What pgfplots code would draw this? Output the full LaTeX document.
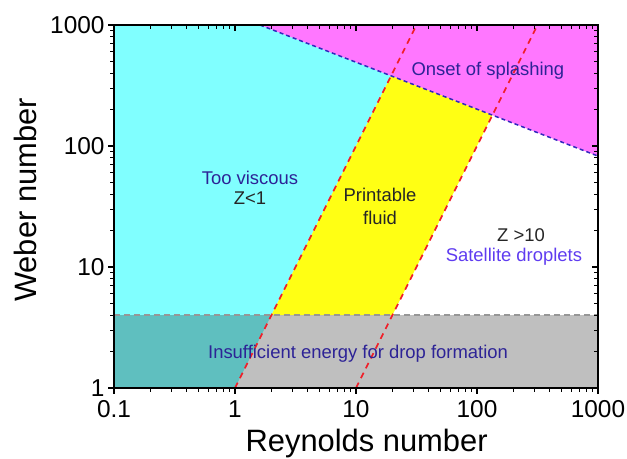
\documentclass[border=0pt]{standalone}
\usepackage{pgfplots}
\pgfplotsset{compat=1.18}
\usepackage{fontspec}
\setmainfont{Liberation Sans}
\definecolor{mycyan}{RGB}{128,255,255}
\definecolor{mymag}{RGB}{255,119,255}
\definecolor{myyel}{RGB}{255,255,20}
\definecolor{navyt}{RGB}{45,35,150}
\definecolor{violett}{RGB}{95,60,240}
\definecolor{splashc}{RGB}{50,40,190}
\definecolor{dred}{RGB}{240,30,40}
\definecolor{dgray}{RGB}{150,150,150}
\begin{document}
\begin{tikzpicture}
\begin{axis}[name=ax,
  xmode=log, ymode=log,
  width=484bp, height=363bp, scale only axis,
  xmin=0.1, xmax=1000, ymin=1, ymax=1000,
  xtick={0.1,1,10,100,1000},
  ytick={1,10,100,1000},
  minor xtick={0.2,0.3,0.4,0.5,0.6,0.7,0.8,0.9,2,3,4,5,6,7,8,9,20,30,40,50,60,70,80,90,200,300,400,500,600,700,800,900},
  minor ytick={2,3,4,5,6,7,8,9,20,30,40,50,60,70,80,90,200,300,400,500,600,700,800,900},
  major tick length=6bp, minor tick length=4bp,
  every tick/.style={black, line width=1.1bp},
  axis line style={line width=1.6bp},
  axis on top,
  tick align=outside,
  xtick pos=left, ytick pos=left,
  xticklabels={0.1,1,10,100,1000},
  yticklabels={1,10,100,1000},
  tick label style={font=\fontsize{24.5}{28}\selectfont},
  xticklabel style={yshift=-3bp},
  /pgf/number format/assume math mode=true,
  xlabel={Reynolds number}, ylabel={Weber number},
  label style={font=\fontsize{31}{36}\selectfont},
  xlabel style={at={(axis description cs:0.522,-0.1763)}, anchor=base},
  ylabel style={at={(axis description cs:-0.160,0.518)}, anchor=base},
]
% regions
\addplot[fill=mycyan, draw=none] coordinates {(0.1,1) (1,1) (19.49,380) (1.61,1000) (0.1,1000)} -- cycle;
\addplot[fill=mymag, draw=none] coordinates {(1.61,1000) (19.49,380) (134.1,179.9) (1000,82.5) (1000,1000)} -- cycle;
\addplot[fill=myyel, draw=none] coordinates {(2,4) (20,4) (134.1,179.9) (19.49,380)} -- cycle;
\addplot[fill=black, fill opacity=0.25, draw=none] coordinates {(0.1,1) (1000,1) (1000,4) (0.1,4)} -- cycle;
% boundary lines
\addplot[dgray, line width=1.4bp, dash pattern=on 6bp off 4bp] coordinates {(0.1,4) (1000,4)};
\addplot[dred, line width=1.6bp, dash pattern=on 6bp off 5bp] coordinates {(1,1) (31.62,1000)};
\addplot[dred, line width=1.6bp, dash pattern=on 6bp off 5bp] coordinates {(10,1) (316.2,1000)};
\addplot[splashc, line width=1.5bp, dash pattern=on 4bp off 3bp] coordinates {(1.61,1000) (1000,82.5)};
% labels
\node[font=\fontsize{18.5}{22}\selectfont, text=navyt] at (axis cs:1.33,54.4) {Too viscous};
\node[font=\fontsize{18.5}{22}\selectfont, text=black!85] at (axis cs:1.33,37.2) {Z<1};
\node[font=\fontsize{18.5}{22}\selectfont, text=black!85] at (axis cs:15.8,39.4) {Printable};
\node[font=\fontsize{18.5}{22}\selectfont, text=black!85] at (axis cs:15.8,25.4) {fluid};
\node[font=\fontsize{18.5}{22}\selectfont, text=navyt] at (axis cs:123,417) {Onset of splashing};
\node[font=\fontsize{18.5}{22}\selectfont, text=black!85] at (axis cs:231,18.4) {Z >10};
\node[font=\fontsize{18.5}{22}\selectfont, text=violett] at (axis cs:202,12.1) {Satellite droplets};
\node[font=\fontsize{18.5}{22}\selectfont, text=navyt] at (axis cs:10.4,1.91) {Insufficient energy for drop formation};
\end{axis}
\begin{axis}[
  xmode=log, ymode=log,
  width=484bp, height=363bp, scale only axis,
  xmin=0.1, xmax=1000, ymin=1, ymax=1000,
  xtick={0.1,1,10,100,1000},
  ytick={1,10,100,1000},
  minor xtick={0.2,0.3,0.4,0.5,0.6,0.7,0.8,0.9,2,3,4,5,6,7,8,9,20,30,40,50,60,70,80,90,200,300,400,500,600,700,800,900},
  minor ytick={2,3,4,5,6,7,8,9,20,30,40,50,60,70,80,90,200,300,400,500,600,700,800,900},
  major tick length=6bp, minor tick length=4bp,
  every tick/.style={black, line width=1.1bp},
  axis line style={line width=1.6bp},
  tick align=inside,
  xtick pos=right, ytick pos=right,
  xticklabels={}, yticklabels={},
]
\end{axis}
\pgfresetboundingbox
\path (ax.south west) ++(-114bp,-71bp) rectangle ++(627bp,459bp);
\end{tikzpicture}
\end{document}
